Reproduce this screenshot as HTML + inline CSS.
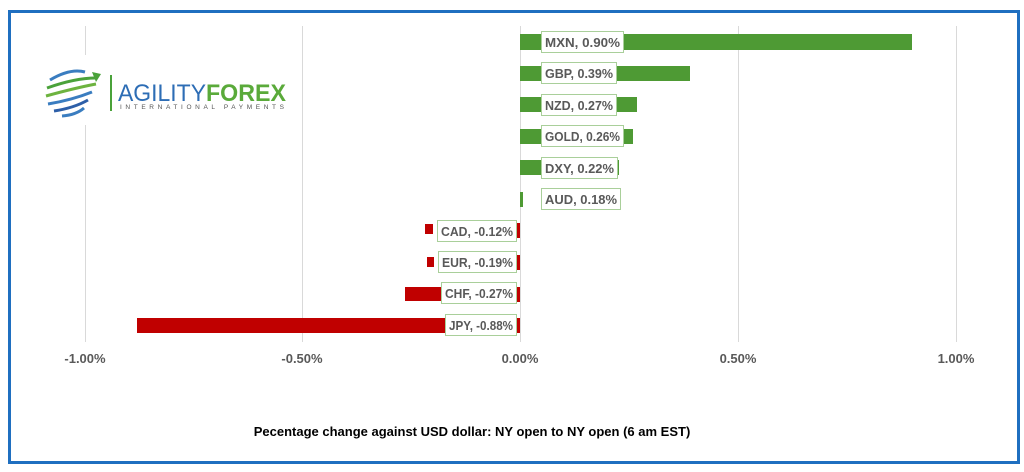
<!DOCTYPE html>
<html><head><meta charset="utf-8"><style>
html,body{margin:0;padding:0;background:#fff;}
svg{display:block;font-family:"Liberation Sans",Arial,sans-serif;}
</style></head><body>
<svg width="1024" height="472" viewBox="0 0 1024 472" xmlns="http://www.w3.org/2000/svg">
<rect x="0" y="0" width="1024" height="472" fill="#fff"/>
<rect x="9.5" y="11.5" width="1009" height="451" fill="none" stroke="#1f6fc0" stroke-width="3"/>
<g stroke="#d9d9d9" stroke-width="1">
<line x1="85.5" y1="26" x2="85.5" y2="342"/>
<line x1="302.5" y1="26" x2="302.5" y2="342"/>
<line x1="520.5" y1="26" x2="520.5" y2="342"/>
<line x1="738.5" y1="26" x2="738.5" y2="342"/>
<line x1="956.5" y1="26" x2="956.5" y2="342"/>
</g>
<!-- logo -->
<rect x="40" y="55" width="250" height="70" fill="#fff"/>
<g fill="none" stroke-width="3">
<path d="M50 80 Q70 68 85 72" stroke="#3a7dc0"/>
<path d="M47 88 Q75 78 96 78" stroke="#4aa23a"/>
<path d="M46 96 Q75 88 96 84" stroke="#6db33f"/>
<path d="M48 104 Q72 100 92 92" stroke="#3a7dc0"/>
<path d="M54 111 Q74 108 88 100" stroke="#2d5fa8"/>
<path d="M62 116 Q76 115 84 108" stroke="#3a7dc0"/>
</g>
<polygon points="92,72 101,74 96,82" fill="#4aa23a"/>
<rect x="110" y="75" width="2" height="36" fill="#4aa23a"/>
<text x="118" y="101" font-size="24" fill="#2d6db5" textLength="88" lengthAdjust="spacingAndGlyphs">AGILITY</text>
<text x="206" y="101" font-size="24" font-weight="bold" fill="#5aaa3a" textLength="80" lengthAdjust="spacingAndGlyphs">FOREX</text>
<text x="120" y="109" font-size="6.5" fill="#555" textLength="164" lengthAdjust="spacing">INTERNATIONAL PAYMENTS</text>
<!-- bars -->
<g fill="#4e9a34">
<rect x="520" y="34" width="392" height="16"/>
<rect x="520" y="66" width="170" height="15"/>
<rect x="520" y="97" width="117" height="15"/>
<rect x="520" y="129" width="113" height="15"/>
<rect x="520" y="160" width="99" height="15"/>
<rect x="520" y="192" width="3" height="15"/>
</g>
<g fill="#c00000">
<rect x="425" y="224" width="8" height="10"/>
<rect x="427" y="257" width="7" height="10"/>
<rect x="405" y="287" width="115" height="14"/>
<rect x="137" y="318" width="383" height="15"/>
<rect x="517" y="223" width="3" height="15"/>
<rect x="517" y="255" width="3" height="15"/>
<rect x="517" y="287" width="3" height="15"/>
<rect x="517" y="318" width="3" height="15"/>
</g>
<g font-size="13" font-weight="bold" fill="#595959">
<g fill="#fff" stroke="#a9cf9a" stroke-width="1">
<rect x="541.5" y="31.5" width="82" height="21"/>
<rect x="541.5" y="62.5" width="75" height="21"/>
<rect x="541.5" y="94.5" width="75" height="21"/>
<rect x="541.5" y="125.5" width="82" height="21"/>
<rect x="541.5" y="157.5" width="76" height="21"/>
<rect x="541.5" y="188.5" width="79" height="21"/>
<rect x="437.5" y="220.5" width="79" height="21"/>
<rect x="438.5" y="251.5" width="78" height="21"/>
<rect x="441.5" y="282.5" width="75" height="21"/>
<rect x="445.5" y="314.5" width="71" height="21"/>
</g>
<text x="545" y="47" textLength="75" lengthAdjust="spacingAndGlyphs">MXN, 0.90%</text>
<text x="545" y="78" textLength="68" lengthAdjust="spacingAndGlyphs">GBP, 0.39%</text>
<text x="545" y="110" textLength="68" lengthAdjust="spacingAndGlyphs">NZD, 0.27%</text>
<text x="545" y="141" textLength="75" lengthAdjust="spacingAndGlyphs">GOLD, 0.26%</text>
<text x="545" y="173" textLength="69" lengthAdjust="spacingAndGlyphs">DXY, 0.22%</text>
<text x="545" y="204" textLength="72" lengthAdjust="spacingAndGlyphs">AUD, 0.18%</text>
<text x="441" y="236" textLength="72" lengthAdjust="spacingAndGlyphs">CAD, -0.12%</text>
<text x="442" y="267" textLength="71" lengthAdjust="spacingAndGlyphs">EUR, -0.19%</text>
<text x="445" y="298" textLength="68" lengthAdjust="spacingAndGlyphs">CHF, -0.27%</text>
<text x="449" y="330" textLength="64" lengthAdjust="spacingAndGlyphs">JPY, -0.88%</text>
</g>
<g font-size="13" font-weight="bold" fill="#595959" text-anchor="middle">
<text x="85" y="363">-1.00%</text>
<text x="302" y="363">-0.50%</text>
<text x="520" y="363">0.00%</text>
<text x="738" y="363">0.50%</text>
<text x="956" y="363">1.00%</text>
</g>
<text x="472" y="436" font-size="13" font-weight="bold" fill="#000" text-anchor="middle">Pecentage change against USD dollar: NY open to NY open  (6 am EST)</text>
</svg>
</body></html>
